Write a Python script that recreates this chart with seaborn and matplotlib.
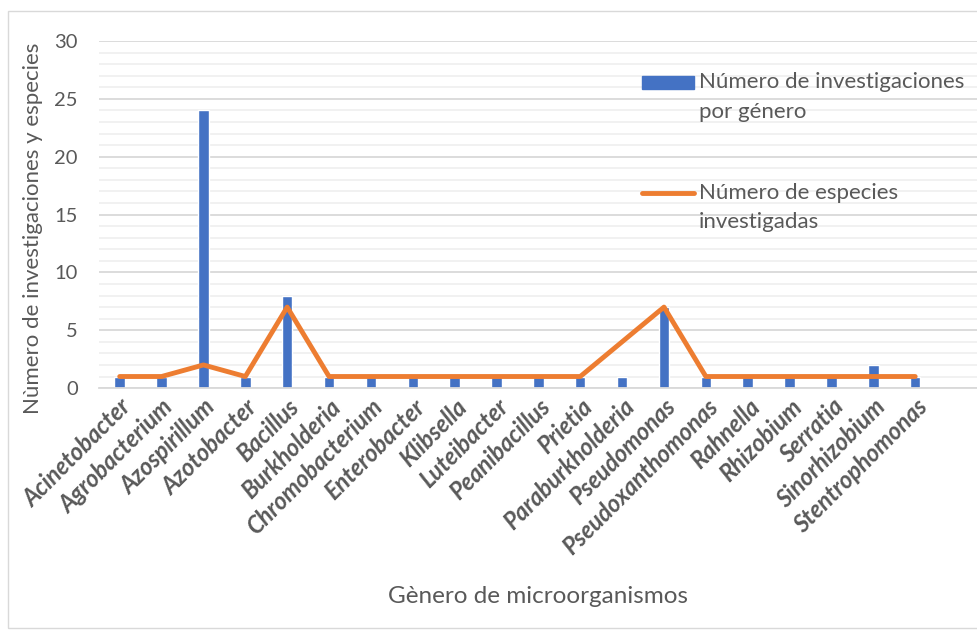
import matplotlib.pyplot as plt
import seaborn as sns
import numpy as np
import pandas as pd
from matplotlib.patches import Rectangle
from matplotlib.lines import Line2D

genera = [
    "Acinetobacter", "Agrobacterium", "Azospirillum", "Azotobacter", "Bacillus",
    "Burkholderia", "Chromobacterium", "Enterobacter", "Klibsella", "Luteibacter",
    "Peanibacillus", "Prietia", "Paraburkholderia", "Pseudomonas",
    "Pseudoxanthomonas", "Rahnella", "Rhizobium", "Serratia", "Sinorhizobium",
    "Stentrophomonas",
]
investigaciones = [1, 1, 24, 1, 8, 1, 1, 1, 1, 1, 1, 1, 1, 7, 1, 1, 1, 1, 2, 1]
especies = [1, 1, 2, 1, 7, 1, 1, 1, 1, 1, 1, 1, 4, 7, 1, 1, 1, 1, 1, 1]

label_bar = ["Número de investigaciones", "por género"]
label_line = ["Número de especies", "investigadas"]

BLUE = "#4472C4"
ORANGE = "#ED7D31"
TEXT = "#595959"

sns.set_style("white")
plt.rcParams["font.family"] = ["Lato", "DejaVu Sans"]

df = pd.DataFrame({"genero": genera, "inv": investigaciones, "esp": especies})
df["pos"] = np.arange(len(df))

fig = plt.figure(figsize=(9.78, 6.3), dpi=100)
ax = fig.add_axes([0.101, 0.384, 0.899, 0.551])

# gridlines: minor every 1, major every 5
for v in range(0, 31):
    if v % 5 == 0:
        ax.axhline(v, color="#D9D9D9", lw=1.3, zorder=0)
    else:
        ax.axhline(v, color="#F0F0F0", lw=1.3, zorder=0)

sns.barplot(data=df, x="pos", y="inv", color=BLUE, width=0.25,
            saturation=1, native_scale=True, ax=ax, zorder=2)
sns.lineplot(data=df, x="pos", y="esp", color=ORANGE, lw=3.5,
             solid_capstyle="round", solid_joinstyle="round", ax=ax, zorder=3)

ax.set_xlim(-0.5, 20.5)
ax.set_ylim(0, 30)
ax.set_yticks(range(0, 31, 5))
ax.set_xticks(df["pos"])
ax.set_xticklabels(genera, rotation=45, ha="right", rotation_mode="anchor",
                   fontsize=17, fontweight="bold", fontstyle="italic", color=TEXT)
ax.tick_params(axis="y", labelsize=14.5, colors=TEXT, length=0, pad=15)
ax.tick_params(axis="x", length=0, pad=5)
for s in ["top", "right", "left"]:
    ax.spines[s].set_visible(False)
ax.spines["bottom"].set_color("#D9D9D9")
ax.spines["bottom"].set_linewidth(1.3)

ax.set_xlabel("Gènero de microorganismos", fontsize=17.5, color=TEXT)
ax.xaxis.set_label_coords(0.5, -0.57)
ax.set_ylabel("Nùmero de investigaciones y especies", fontsize=16, color=TEXT)
ax.yaxis.set_label_coords(-0.063, 0.46)

# legend, drawn by hand so the handle sits on the first text line
def px(x, y):
    return x / 978, 1 - y / 630

fig.patches.append(Rectangle(px(642, 89), 52 / 978, 13 / 630,
                             transform=fig.transFigure, color=BLUE))
fig.lines.append(Line2D([px(642, 0)[0], px(694, 0)[0]], [px(0, 193)[1]] * 2,
                        transform=fig.transFigure, color=ORANGE, lw=3.5,
                        solid_capstyle="round"))
for lines, ys in [(label_bar, (82, 112)), (label_line, (193, 222))]:
    for txt, y in zip(lines, ys):
        fig.text(*px(699, y), txt, fontsize=16, color=TEXT, va="center")

fig.patches.append(Rectangle((0.008, 0.003), 1.5, 0.98, transform=fig.transFigure,
                             fill=False, edgecolor="#D9D9D9", lw=1))

fig.savefig("out.png", dpi=100)
